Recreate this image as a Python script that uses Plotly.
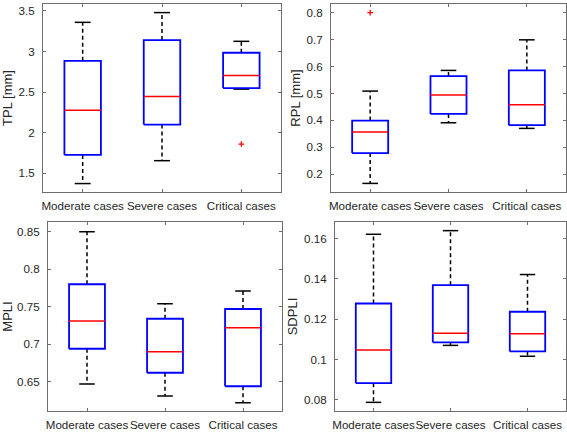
import plotly.graph_objects as go

categories = ["Moderate cases", "Severe cases", "Critical cases"]

# TPL [mm]
tpl_lower = [1.373, 1.655, 2.537]
tpl_q1 = [1.726, 2.100, 2.550]
tpl_median = [2.278, 2.447, 2.706]
tpl_q3 = [2.886, 3.142, 2.985]
tpl_upper = [3.360, 3.480, 3.126]
tpl_out_cat = ["Critical cases"]
tpl_out_val = [1.86]

# RPL [mm]
rpl_lower = [0.165, 0.391, 0.370]
rpl_q1 = [0.278, 0.424, 0.382]
rpl_median = [0.357, 0.494, 0.458]
rpl_q3 = [0.399, 0.565, 0.586]
rpl_upper = [0.509, 0.586, 0.700]
rpl_out_cat = ["Moderate cases"]
rpl_out_val = [0.801]

# MPLI
mpli_lower = [0.647, 0.631, 0.622]
mpli_q1 = [0.694, 0.662, 0.644]
mpli_median = [0.731, 0.690, 0.722]
mpli_q3 = [0.780, 0.734, 0.747]
mpli_upper = [0.850, 0.754, 0.771]
mpli_out_cat = []
mpli_out_val = []

# SDPLI
sdpli_lower = [0.0787, 0.1070, 0.1016]
sdpli_q1 = [0.0882, 0.1085, 0.1040]
sdpli_median = [0.1047, 0.1130, 0.1128]
sdpli_q3 = [0.1278, 0.1369, 0.1237]
sdpli_upper = [0.1622, 0.1640, 0.1422]
sdpli_out_cat = []
sdpli_out_val = []

panels = [
    dict(title="TPL [mm]", lower=tpl_lower, q1=tpl_q1, med=tpl_median, q3=tpl_q3, up=tpl_upper,
         oc=tpl_out_cat, ov=tpl_out_val, yrange=[1.269, 3.586], dtick=0.5,
         xd=[43/567, 281/567], yd=[1-192/434, 1-4/434]),
    dict(title="RPL [mm]", lower=rpl_lower, q1=rpl_q1, med=rpl_median, q3=rpl_q3, up=rpl_upper,
         oc=rpl_out_cat, ov=rpl_out_val, yrange=[0.133, 0.8335], dtick=0.1,
         xd=[331/567, 566/567], yd=[1-192/434, 1-4/434]),
    dict(title="MPLI", lower=mpli_lower, q1=mpli_q1, med=mpli_median, q3=mpli_q3, up=mpli_upper,
         oc=mpli_out_cat, ov=mpli_out_val, yrange=[0.611, 0.863], dtick=0.05,
         xd=[48/567, 282/567], yd=[1-411/434, 1-222/434]),
    dict(title="SDPLI", lower=sdpli_lower, q1=sdpli_q1, med=sdpli_median, q3=sdpli_q3, up=sdpli_upper,
         oc=sdpli_out_cat, ov=sdpli_out_val, yrange=[0.0744, 0.1683], dtick=0.02,
         xd=[335/567, 566/567], yd=[1-411/434, 1-222/434]),
]

BOX_HW = 0.23
CAP_HW = 0.1
fig = go.Figure()
font_col = "#262626"
axis_col = "#6e6e6e"
TICK_FS = 11.6
layout = dict(width=567, height=434, margin=dict(l=0, r=0, t=0, b=0),
              paper_bgcolor="white", plot_bgcolor="white", showlegend=False,
              font=dict(family="Liberation Sans, Arial", size=TICK_FS, color=font_col))

for i, p in enumerate(panels):
    k = "" if i == 0 else str(i + 1)
    xa, ya = "x" + k, "y" + k
    for j, c in enumerate(categories):
        xc = j + 1
        # whiskers (dashed)
        for a, b in [(p["q3"][j], p["up"][j]), (p["q1"][j], p["lower"][j])]:
            fig.add_trace(go.Scatter(x=[xc, xc], y=[a, b], mode="lines", xaxis=xa, yaxis=ya,
                                     line=dict(color="black", width=1.5, dash="4px,3px"), hoverinfo="skip"))
        # caps
        for v in [p["up"][j], p["lower"][j]]:
            fig.add_trace(go.Scatter(x=[xc - CAP_HW, xc + CAP_HW], y=[v, v], mode="lines", xaxis=xa, yaxis=ya,
                                     line=dict(color="black", width=1.5), hoverinfo="skip"))
        # box
        fig.add_trace(go.Scatter(x=[xc - BOX_HW, xc + BOX_HW, xc + BOX_HW, xc - BOX_HW, xc - BOX_HW],
                                 y=[p["q1"][j], p["q1"][j], p["q3"][j], p["q3"][j], p["q1"][j]],
                                 mode="lines", xaxis=xa, yaxis=ya,
                                 line=dict(color="#0000FF", width=1.8), hoverinfo="skip"))
        # median
        fig.add_trace(go.Scatter(x=[xc - BOX_HW, xc + BOX_HW], y=[p["med"][j], p["med"][j]], mode="lines",
                                 xaxis=xa, yaxis=ya, line=dict(color="#FF0000", width=1.5), hoverinfo="skip"))
    if p["oc"]:
        fig.add_trace(go.Scatter(x=[categories.index(c) + 1 for c in p["oc"]], y=p["ov"], mode="markers",
                                 xaxis=xa, yaxis=ya,
                                 marker=dict(symbol="cross-thin", size=4, line=dict(color="#FF0000", width=1.3),
                                             color="#FF0000")))
    layout["xaxis" + k] = dict(domain=p["xd"], anchor=ya, range=[0.5, 3.5], tickmode="array",
                               tickvals=[1, 2, 3], ticktext=categories, ticks="inside", ticklen=3,
                               tickcolor=axis_col, showline=True, linecolor=axis_col, linewidth=1, mirror="ticks",
                               showgrid=False, zeroline=False, ticklabelstandoff=3, tickangle=0,
                               automargin=False,
                               tickfont=dict(size=TICK_FS, color=font_col))
    layout["yaxis" + k] = dict(domain=p["yd"], anchor=xa, range=p["yrange"], dtick=p["dtick"], tick0=0,
                               ticks="inside", ticklen=3, tickcolor=axis_col, showline=True, linecolor=axis_col,
                               linewidth=1, mirror="ticks", showgrid=False, zeroline=False,
                               ticklabelstandoff=5, automargin=False,
                               tickfont=dict(size=TICK_FS, color=font_col),
                               title=dict(text=p["title"], font=dict(size=13, color=font_col), standoff=3))

fig.update_layout(**layout)
fig.write_html("out.html")
